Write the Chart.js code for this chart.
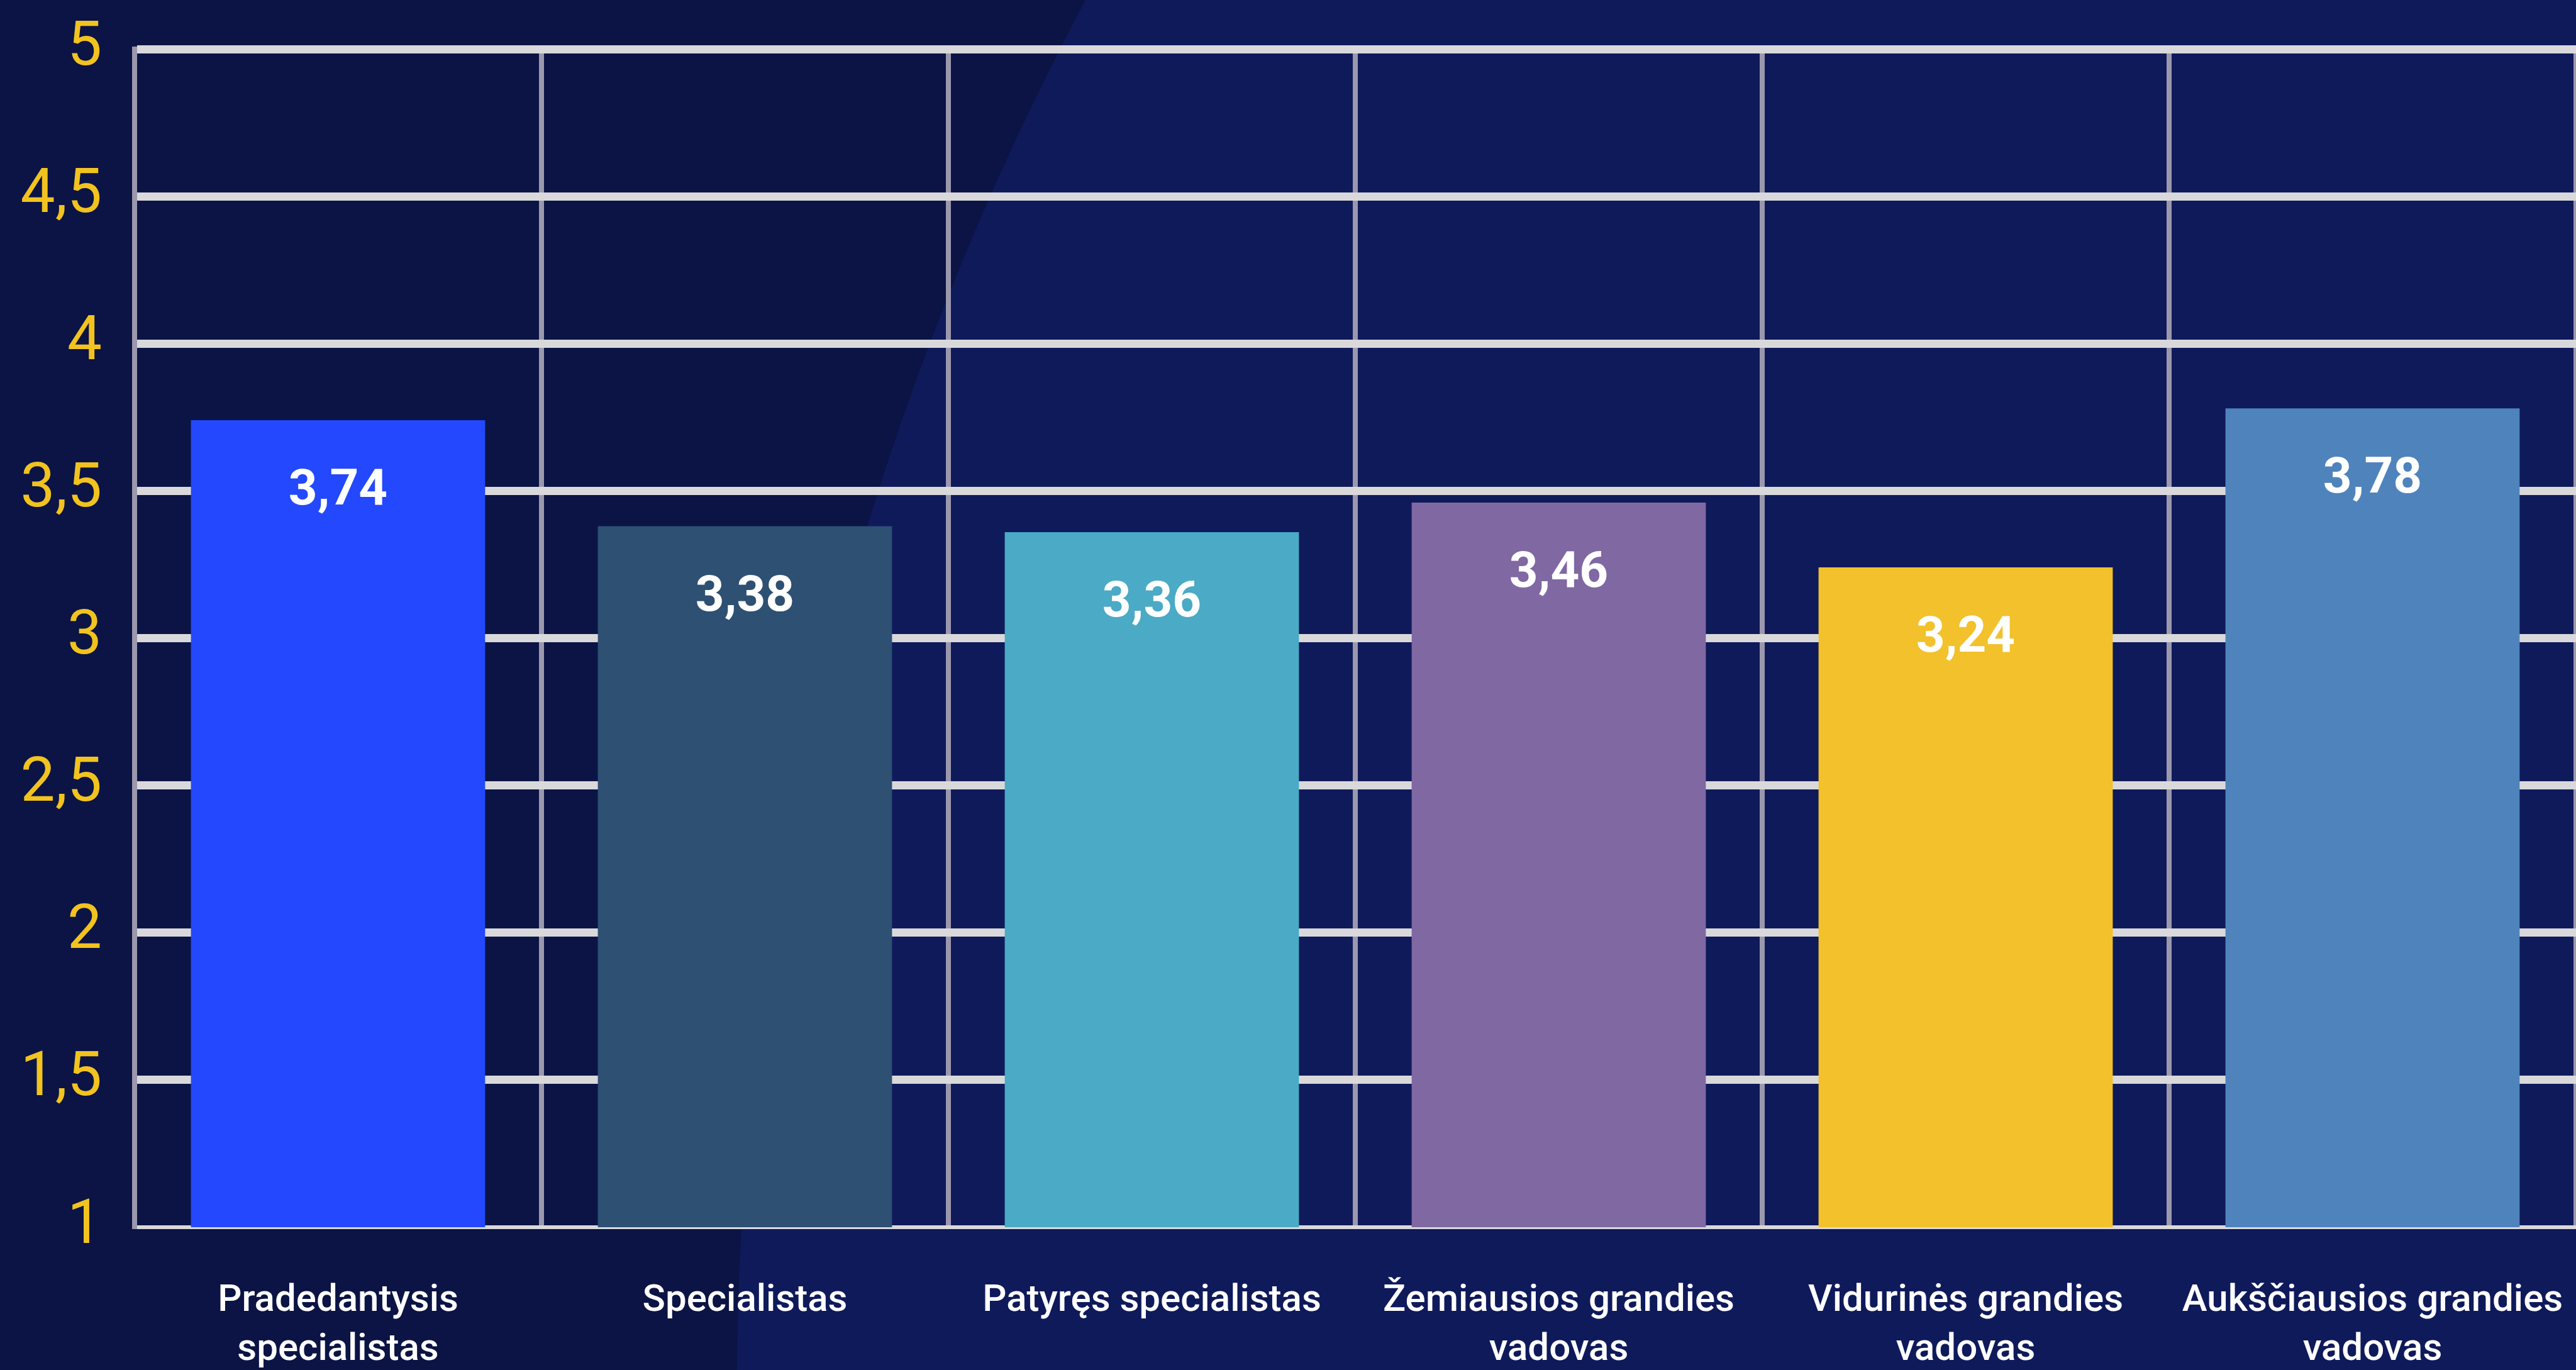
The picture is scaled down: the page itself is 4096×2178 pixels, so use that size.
<!DOCTYPE html>
<html lang="lt">
<head>
<meta charset="utf-8">
<title>Vidutinis įvertinimas pagal pareigas</title>
<script src="https://cdn.jsdelivr.net/npm/chart.js@4.4.1/dist/chart.umd.min.js"></script>
<style>
  html, body { margin: 0; padding: 0; background: #0b1444; overflow: hidden; }
  #chart { display: block; }
</style>
</head>
<body>
<canvas id="chart" width="4096" height="2178"></canvas>
<script>
// Data
const positions = [
    ['Pradedantysis', 'specialistas'],
    'Specialistas',
    'Patyręs specialistas',
    ['Žemiausios grandies', 'vadovas'],
    ['Vidurinės grandies', 'vadovas'],
    ['Aukščiausios grandies', 'vadovas']
];
const scores = [3.74, 3.38, 3.36, 3.46, 3.24, 3.78];
const barColors = ['#2348fd', '#2d5073', '#4baac5', '#8068a3', '#f2c12b', '#4f83bc'];
const yTicks = [1, 1.5, 2, 2.5, 3, 3.5, 4, 4.5, 5];

// Lithuanian decimal comma
const fmt = v => String(v).replace('.', ',');

// scales should not push the plot inward for label overflow
const noEdgePadding = scale => {
    scale.paddingTop = 0;
    scale.paddingBottom = 0;
    scale.paddingLeft = 0;
    scale.paddingRight = 0;
};

// Dark backdrop with the lighter disc sweeping in from the right
const backdrop = {
    id: 'backdrop',
    beforeDraw(chart) {
        const { ctx, width, height } = chart;
        ctx.save();
        ctx.fillStyle = '#0b1444';
        ctx.fillRect(0, 0, width, height);
        ctx.beginPath();
        ctx.arc(width * 1.44, height * 1.02, width * 1.154, 0, Math.PI * 2);
        ctx.fillStyle = '#0f1a5b';
        ctx.fill();
        ctx.restore();
    }
};

// Value printed just inside the top of each bar
const barValues = {
    id: 'barValues',
    afterDatasetsDraw(chart) {
        const ctx = chart.ctx;
        const meta = chart.getDatasetMeta(0);
        ctx.save();
        ctx.font = 'bold 80px Roboto';
        ctx.fillStyle = '#ffffff';
        ctx.textAlign = 'center';
        ctx.textBaseline = 'middle';
        meta.data.forEach((bar, i) => {
            ctx.fillText(fmt(scores[i]), bar.x, bar.y + 114);
        });
        ctx.restore();
    }
};

function draw() {
    new Chart(document.getElementById('chart'), {
        type: 'bar',
        data: {
            labels: positions,
            datasets: [{
                data: scores,
                backgroundColor: barColors,
                borderWidth: 0,
                categoryPercentage: 1,
                barPercentage: 0.723
            }]
        },
        options: {
            responsive: false,
            animation: false,
            devicePixelRatio: 1,
            layout: { autoPadding: false, padding: { top: 78, right: 0, bottom: 0, left: 0 } },
            plugins: {
                legend: { display: false },
                tooltip: { enabled: false }
            },
            scales: {
                x: {
                    offset: true,
                    grid: {
                        offset: true,
                        color: '#9b98ad',
                        lineWidth: 8,
                        drawTicks: false,
                        z: -2
                    },
                    border: { display: true, color: '#d9d9db', width: 6 },
                    ticks: {
                        color: '#ffffff',
                        padding: 79,
                        maxRotation: 0,
                        autoSkip: false,
                        font: { family: 'Roboto', size: 60, weight: '500', lineHeight: 1.3 }
                    },
                    afterFit(scale) {
                        scale.height = 227;
                        noEdgePadding(scale);
                    }
                },
                y: {
                    min: yTicks[0],
                    max: yTicks[yTicks.length - 1],
                    afterBuildTicks(scale) {
                        scale.ticks = yTicks.map(v => ({ value: v }));
                    },
                    grid: {
                        color: '#d9d9db',
                        lineWidth: c => (c.tick && c.tick.value === yTicks[0] ? 6 : 13),
                        drawTicks: false,
                        z: -1
                    },
                    border: { display: true, color: '#9b98ad', width: 8 },
                    ticks: {
                        color: '#f2c31f',
                        padding: 52,
                        font: { family: 'Roboto', size: 98, weight: '400' },
                        callback: v => fmt(v)
                    },
                    afterFit(scale) {
                        scale.width = 214;
                        noEdgePadding(scale);
                    }
                }
            }
        },
        plugins: [backdrop, barValues]
    });
}

Promise.all([
    document.fonts.load('400 98px Roboto'),
    document.fonts.load('500 60px Roboto'),
    document.fonts.load('700 80px Roboto')
]).then(draw, draw);
</script>
</body>
</html>
